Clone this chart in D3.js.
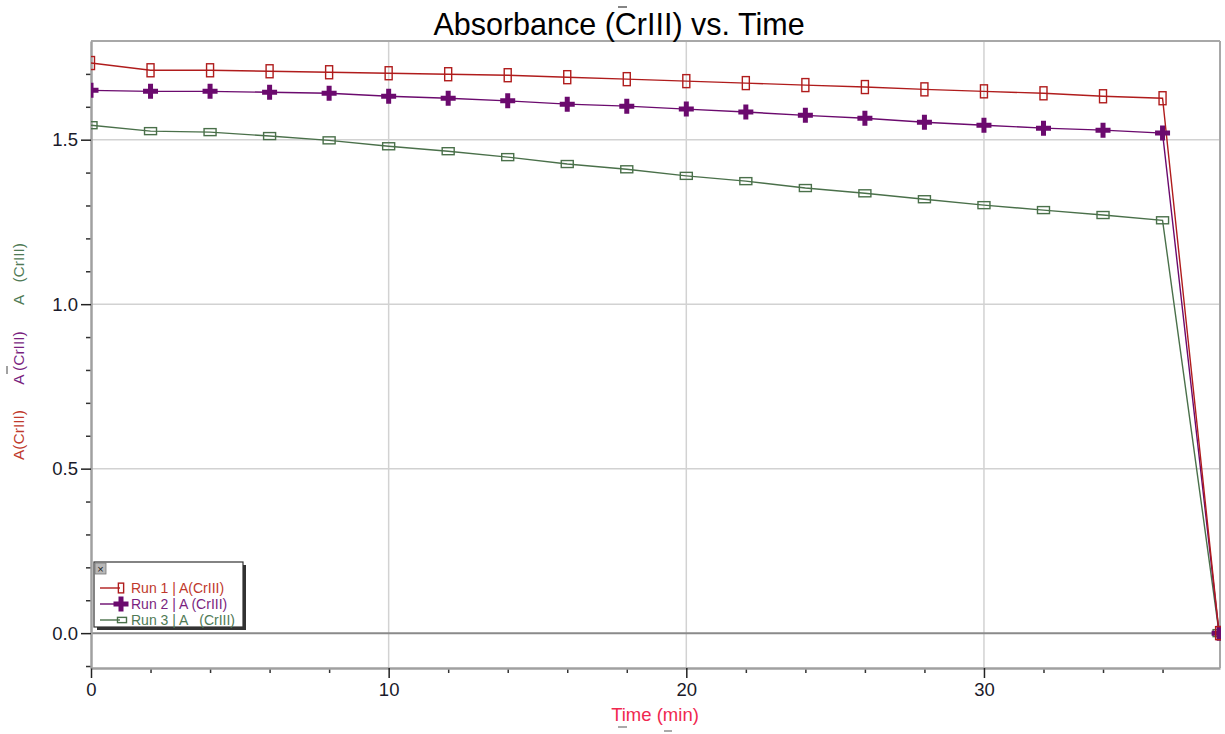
<!DOCTYPE html>
<html><head><meta charset="utf-8">
<script src="https://cdn.jsdelivr.net/npm/d3@7"></script>
<style>
html,body{margin:0;padding:0;background:#fff;}
svg{display:block;font-family:Arial,"Liberation Sans",sans-serif;}
</style></head>
<body><svg id="c" width="1225" height="734"></svg>
<script>
// ---- data ----
const times = [0,2,4,6,8,10,12,14,16,18,20,22,24,26,28,30,32,34,36,37.9];
const run1 = [1.733,1.711,1.711,1.708,1.705,1.702,1.699,1.696,1.690,1.684,1.678,1.672,1.666,1.660,1.653,1.647,1.641,1.632,1.626,0];
const run2 = [1.650,1.647,1.647,1.644,1.641,1.632,1.626,1.618,1.608,1.602,1.593,1.584,1.574,1.565,1.553,1.544,1.535,1.529,1.520,0];
const run3 = [1.544,1.526,1.523,1.511,1.498,1.480,1.465,1.447,1.426,1.410,1.390,1.374,1.353,1.337,1.319,1.301,1.286,1.271,1.255,0];
const seriesNames = ["Run 1 | A(CrIII)","Run 2 | A (CrIII)","Run 3 | A   (CrIII)"];
const xMajorTicks = [0,10,20,30];
const xMinorTicks = [2,4,6,8,12,14,16,18,22,24,26,28,32,34,36];
const yMajorTicks = [0,0.5,1.0,1.5];
const yMinorTicks = [-0.1,0.1,0.2,0.3,0.4,0.6,0.7,0.8,0.9,1.1,1.2,1.3,1.4,1.6,1.7];
const titleText = "Absorbance (CrIII) vs. Time";
const xLabel = "Time (min)";
const yLabels = ["A(CrIII)","A (CrIII)","A   (CrIII)"];

// ---- layout ----
const svg = d3.select("#c");
const L=91, R=1220, T=41, B=668;
const x = d3.scaleLinear().domain([0,37.93]).range([L,R]);
const y = d3.scaleLinear().domain([-0.106,1.80]).range([B,T]);
const colors = ["#b01c1c","#6b0a6e","#4a704a"];
const textColors = ["#c0392b","#7a1f7f","#4f7a55"];

// gridlines
svg.append("g").selectAll("line").data(xMajorTicks.filter(d=>d>0)).join("line")
  .attr("x1",d=>x(d)).attr("x2",d=>x(d)).attr("y1",T).attr("y2",B)
  .attr("stroke","#d2d2d2").attr("stroke-width",1.5);
svg.append("g").selectAll("line").data(yMajorTicks.filter(d=>d>0)).join("line")
  .attr("x1",L).attr("x2",R).attr("y1",d=>y(d)).attr("y2",d=>y(d))
  .attr("stroke","#d2d2d2").attr("stroke-width",1.5);
// zero line
svg.append("line").attr("x1",L).attr("x2",R).attr("y1",y(0)).attr("y2",y(0))
  .attr("stroke","#8a8a8a").attr("stroke-width",2);
// frame
svg.append("line").attr("x1",L).attr("x2",R).attr("y1",T).attr("y2",T).attr("stroke","#a8a8a8").attr("stroke-width",2);
svg.append("line").attr("x1",R).attr("x2",R).attr("y1",T).attr("y2",B).attr("stroke","#a8a8a8").attr("stroke-width",2);

// axes
function styleAxis(g){
  g.select(".domain").attr("stroke","#a0a0a0").attr("stroke-width",2.5);
  g.selectAll(".tick line").attr("stroke","#222").attr("stroke-width",1.5);
  g.selectAll(".tick text").attr("fill","#1a1a2a").style("font-size","18.5px").style("font-family","Arial,'Liberation Sans',sans-serif");
}
const xMin = svg.append("g").attr("transform",`translate(0,${B})`)
  .call(d3.axisBottom(x).tickValues(xMinorTicks).tickSize(5).tickFormat("").tickSizeOuter(0));
xMin.select(".domain").remove(); xMin.selectAll(".tick line").attr("stroke","#333").attr("stroke-width",1.5);
const yMin = svg.append("g").attr("transform",`translate(${L},0)`)
  .call(d3.axisLeft(y).tickValues(yMinorTicks).tickSize(5).tickFormat("").tickSizeOuter(0));
yMin.select(".domain").remove(); yMin.selectAll(".tick line").attr("stroke","#333").attr("stroke-width",1.5);

const xAx = svg.append("g").attr("transform",`translate(0,${B})`)
  .call(d3.axisBottom(x).tickValues(xMajorTicks).tickSize(10).tickSizeOuter(0).tickPadding(5).tickFormat(d3.format("d")));
styleAxis(xAx);
const yAx = svg.append("g").attr("transform",`translate(${L},0)`)
  .call(d3.axisLeft(y).tickValues(yMajorTicks).tickSize(10).tickSizeOuter(0).tickPadding(3).tickFormat(d3.format(".1f")));
styleAxis(yAx);

// clip
svg.append("clipPath").attr("id","clip").append("rect").attr("x",L).attr("y",T).attr("width",R-L+1).attr("height",B-T);

const datasets = [run1,run2,run3].map((vals,i)=>vals.map((v,j)=>({t:times[j],v:v})));
const line = d3.line().x(d=>x(d.t)).y(d=>y(d.v));
const plot = svg.append("g").attr("clip-path","url(#clip)");

function marker(g,i,cx,cy,scale){
  scale = scale||1;
  if(i===0){
    g.append("rect").attr("x",cx-3.5*scale).attr("y",cy-6.5*scale).attr("width",7*scale).attr("height",13*scale)
      .attr("fill","none").attr("stroke",colors[0]).attr("stroke-width",1.4);
  } else if(i===1){
    g.append("path").attr("d",`M${cx-7.5*scale},${cy}H${cx+7.5*scale}M${cx},${cy-7.5*scale}V${cy+7.5*scale}`)
      .attr("stroke",colors[1]).attr("stroke-width",5*scale).attr("fill","none");
  } else {
    g.append("rect").attr("x",cx-6*scale).attr("y",cy-3.5*scale).attr("width",12*scale).attr("height",7*scale)
      .attr("fill","none").attr("stroke",colors[2]).attr("stroke-width",1.4);
  }
}

[2,1,0].forEach(i=>{
  plot.append("path").datum(datasets[i]).attr("d",line).attr("fill","none")
    .attr("stroke",colors[i]).attr("stroke-width",1.4);
});
[2,1,0].forEach(i=>{
  const g = plot.append("g");
  datasets[i].forEach(d=>marker(g,i,x(d.t),y(d.v)));
});

// title
svg.append("text").attr("x",619).attr("y",35).attr("text-anchor","middle")
  .style("font-size","30.5px").attr("fill","#000").text(titleText);
svg.append("line").attr("x1",618).attr("x2",627).attr("y1",7).attr("y2",7).attr("stroke","#333").attr("stroke-width",1.2);

// x label
svg.append("text").attr("x",655).attr("y",721).attr("text-anchor","middle")
  .style("font-size","18.5px").attr("fill","#f0284f").text(xLabel);
svg.append("line").attr("x1",618).attr("x2",627).attr("y1",727).attr("y2",727).attr("stroke","#555").attr("stroke-width",1);
svg.append("line").attr("x1",664).attr("x2",672).attr("y1",731).attr("y2",731).attr("stroke","#555").attr("stroke-width",1);

// y labels (rotated)
const yLabelPos = [435, 358, 274];
yLabels.forEach((t,i)=>{
  svg.append("text").attr("transform",`translate(24,${yLabelPos[i]}) rotate(-90)`)
    .attr("text-anchor","middle").style("font-size","15.5px").attr("fill",textColors[i])
    .style("white-space","pre").attr("xml:space","preserve").text(t);
});
svg.append("line").attr("x1",7).attr("x2",7).attr("y1",366).attr("y2",374).attr("stroke","#444").attr("stroke-width",1);

// legend
const lg = svg.append("g");
lg.append("rect").attr("x",97).attr("y",565).attr("width",149).attr("height",65).attr("fill","#333");
lg.append("rect").attr("x",94).attr("y",562).attr("width",149).attr("height",65).attr("fill","#fff")
  .attr("stroke","#333").attr("stroke-width",1.2);
lg.append("rect").attr("x",95).attr("y",563).attr("width",11).attr("height",11).attr("fill","#b8b8b8").attr("stroke","#777").attr("stroke-width",0.8);
lg.append("text").attr("x",100.5).attr("y",572.5).attr("text-anchor","middle").style("font-size","11px").attr("fill","#222").text("×");
const ly = [588,604,620];
seriesNames.forEach((n,i)=>{
  lg.append("line").attr("x1",100).attr("x2",120).attr("y1",ly[i]).attr("y2",ly[i]).attr("stroke",colors[i]).attr("stroke-width",1.4);
  marker(lg,i,i===2?122:121,ly[i],i===0?0.75:(i===1?1:0.75));
  lg.append("text").attr("x",131).attr("y",ly[i]+5).style("font-size","14px").attr("fill",textColors[i])
    .attr("xml:space","preserve").style("white-space","pre").text(n);
});
</script></body></html>
